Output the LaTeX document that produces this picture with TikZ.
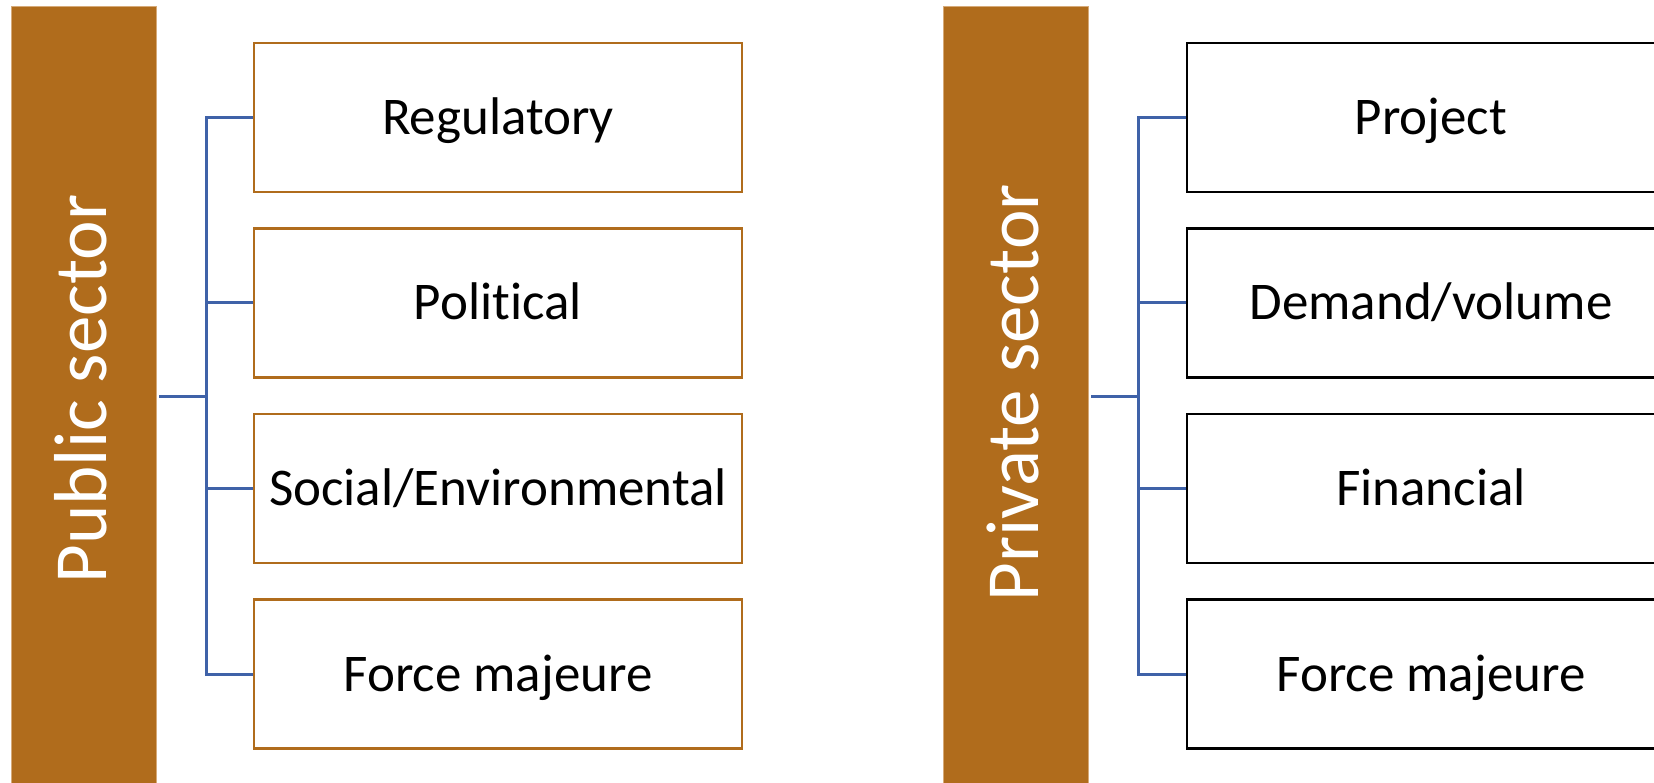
\documentclass[tikz,border=0pt]{standalone}
\usepackage{fontspec}
\setmainfont{Carlito}[Ligatures={NoCommon}]
\definecolor{barbrown}{RGB}{176,108,28}
\definecolor{baredge}{RGB}{214,170,120}
\definecolor{linkblue}{RGB}{63,98,168}
\tikzset{
  sectorbar/.style={fill=barbrown, draw=baredge, line width=1pt, minimum width=145, minimum height=800, inner sep=0},
  sectorlabel/.style={text=white, rotate=90, font=\fontsize{75}{80}\selectfont, text height=50, text depth=5, inner sep=0},
  riskbox/.style={fill=white, line width=2.5pt, minimum width=488, minimum height=149, inner sep=0,
    font=\fontsize{53}{60}\selectfont, text height=40, text depth=6},
  publicbox/.style={riskbox, draw=barbrown},
  privatebox/.style={riskbox, draw=black},
  link/.style={draw=linkblue, line width=3pt}
}
\begin{document}
\begin{tikzpicture}[x=1pt, y=-1pt]
\useasboundingbox (0,0) rectangle (1654,783);
\clip (0,0) rectangle (1654,783);
\fill[white] (0,0) rectangle (1654,783);

% public sector column
\node[sectorbar] (Lbar) at (83.5,407) {};
\node[sectorlabel] (Ltext) at (83.5,389) {Public sector};
\node[publicbox] (L1) at (498,117.5) {Regulatory};
\node[publicbox] (L2) at (498,303) {Political};
\node[publicbox] (L3) at (498,488.5) {Social/Environmental};
\node[publicbox] (L4) at (498,674) {Force majeure};
\coordinate (Lhub) at (206,396);
\coordinate (Lstart) at (159,396);
\draw[link] (Lstart) -- (Lhub);
\draw[link] (L1.west) -| (Lhub) |- (L4.west);
\draw[link] (L2.west) -- (L2.west -| Lhub);
\draw[link] (L3.west) -- (L3.west -| Lhub);

% private sector column
\node[sectorbar] (Rbar) at (1015.5,407) {};
\node[sectorlabel] (Rtext) at (1015.5,393) {Private sector};
\node[privatebox] (R1) at (1431,117.5) {Project};
\node[privatebox] (R2) at (1431,303) {Demand/volume};
\node[privatebox] (R3) at (1431,488.5) {Financial};
\node[privatebox] (R4) at (1431,674) {Force majeure};
\coordinate (Rhub) at (1138,396);
\coordinate (Rstart) at (1091,396);
\draw[link] (Rstart) -- (Rhub);
\draw[link] (R1.west) -| (Rhub) |- (R4.west);
\draw[link] (R2.west) -- (R2.west -| Rhub);
\draw[link] (R3.west) -- (R3.west -| Rhub);
\end{tikzpicture}
\end{document}
